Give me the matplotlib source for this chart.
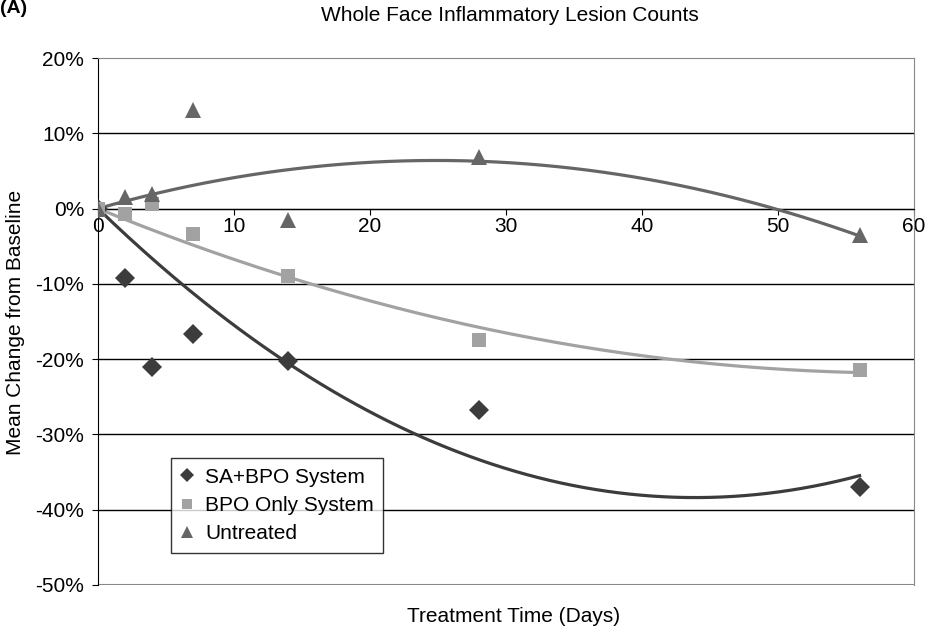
import numpy as np
import matplotlib.pyplot as plt
from matplotlib.ticker import PercentFormatter

plt.rcParams['font.family'] = ['Liberation Sans', 'DejaVu Sans']
plt.rcParams['axes.unicode_minus'] = False

days = [0, 2, 4, 7, 14, 28, 56]
sa_bpo = [0, -9.2, -21.0, -16.6, -20.2, -26.7, -37.0]
bpo_only = [0, -0.7, 0.6, -3.4, -9.0, -17.5, -21.4]
untreated = [0, 1.6, 2.0, 13.1, -1.5, 6.8, -3.5]
y_ticks = [-0.5, -0.4, -0.3, -0.2, -0.1, 0.0, 0.1, 0.2]

series = [
    ("SA+BPO System", sa_bpo, 'D', '#3c3c3c', 10),
    ("BPO Only System", bpo_only, 's', '#a2a2a2', 10.5),
    ("Untreated", untreated, '^', '#666666', 11.5),
]

fig = plt.figure(figsize=(9.38, 6.32), dpi=100)
ax = fig.add_axes([0.1045, 0.0744, 0.8699, 0.8338])

x = np.array(days, dtype=float)
xs = np.linspace(0, 56, 200)
for name, vals, mk, col, ms in series:
    y = np.array(vals) / 100
    # second-order trend with the intercept held at zero
    A = np.column_stack([x, x ** 2])
    (a, b), *_ = np.linalg.lstsq(A, y, rcond=None)
    ax.plot(xs, a * xs + b * xs ** 2, color=col, lw=2.3, zorder=3)
    ax.plot(x, y, linestyle='none', marker=mk, ms=ms, color=col,
            markeredgewidth=0, label=name, zorder=4)

ax.set_xlim(0, 60)
ax.set_ylim(-0.5, 0.2)
ax.set_xticks(range(0, 61, 10))
ax.set_yticks(y_ticks)
ax.yaxis.set_major_formatter(PercentFormatter(1.0, decimals=0))
for v in y_ticks[1:-1]:
    ax.axhline(v, color='black', lw=1, zorder=1)

ax.spines['bottom'].set_position(('data', 0))
ax.spines['bottom'].set_color('black')
ax.spines['left'].set_color('black')
for s in ['top', 'right']:
    ax.spines[s].set_color('#888888')
ax.axhline(-0.5, color='#888888', lw=1.5, zorder=2)
ax.tick_params(axis='both', labelsize=15, length=4, color='black')
ax.tick_params(axis='y', pad=6)
ax.tick_params(axis='x', pad=2)

fig.text(0.544, 0.975, "Whole Face Inflammatory Lesion Counts", fontsize=15,
         ha='center', va='center')
fig.text(0.017, 0.49, "Mean Change from Baseline", fontsize=15,
         rotation=90, ha='center', va='center')
fig.text(0.547, 0.025, "Treatment Time (Days)", fontsize=15,
         ha='center', va='center')
fig.text(0.0, 1.0, "(A)", fontsize=14, fontweight='bold', va='top')

leg = ax.legend(loc='lower left', bbox_to_anchor=(0.089, 0.061), fontsize=15,
                frameon=True, fancybox=False, edgecolor='black',
                handlelength=0.7, handletextpad=0.5, borderpad=0.45,
                labelspacing=0.45, borderaxespad=0, markerscale=0.75)
leg.get_frame().set_linewidth(1)

fig.savefig('out.png', dpi=100)
